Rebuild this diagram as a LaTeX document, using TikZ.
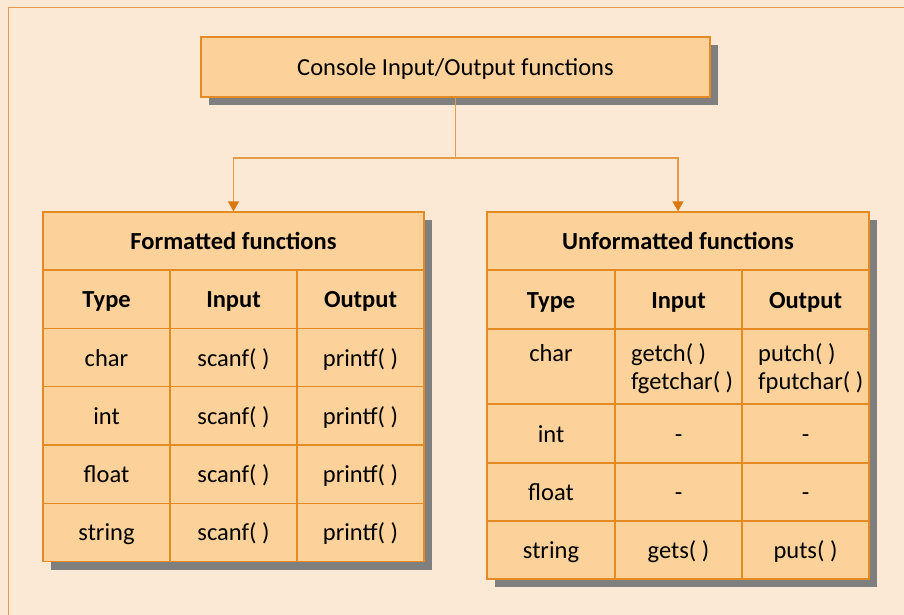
\documentclass[tikz,border=0pt]{standalone}
\usepackage{fontspec}
\setmainfont{Carlito}
\usetikzlibrary{arrows.meta}
\definecolor{bgc}{HTML}{FBE9D5}
\definecolor{boxc}{HTML}{FCD29A}
\definecolor{edgec}{HTML}{E38A22}
\definecolor{linec}{HTML}{E49A48}
\definecolor{tipc}{HTML}{D9780F}
\definecolor{shadc}{HTML}{7F7F7F}
\tikzset{
  cell/.style={draw=edgec, line width=1.3pt, fill=boxc, inner sep=0pt, text height=20pt, text depth=3pt, font=\fontsize{24.5}{28}\selectfont, text=black},
  hcell/.style={cell, font=\fontsize{24.5}{28}\selectfont\bfseries},
  shad/.style={fill=shadc},
  conn/.style={draw=linec, line width=1.5pt},
  txt/.style={inner sep=0pt, text height=20pt, text depth=3pt, font=\fontsize{24.5}{28}\selectfont, text=black, anchor=west}
}
\begin{document}
\begin{tikzpicture}[x=1pt,y=-1pt]
\useasboundingbox (0,0) rectangle (904,615);
\fill[bgc] (0,0) rectangle (904,615);
\draw[draw=linec, line width=1.5pt] (8.5,615) -- (8.5,7.5) -- (904,7.5);
% shadows
\fill[shad] (209,45) rectangle (718,105);
\fill[shad] (51,220) rectangle (432,570);
\fill[shad] (495,220) rectangle (877,587);
% top box
\node[cell, minimum width=509pt, minimum height=60pt] (top) at (455.5,67) {Console Input/Output functions};
% left table
\node[hcell, minimum width=381pt, minimum height=58.33pt] (LT) at (233.5,241.2) {Formatted functions};
\foreach \r/\a/\b/\c/\s in {1/Type/Input/Output/hcell, 2/char/scanf( )/printf( )/cell, 3/int/scanf( )/printf( )/cell, 4/float/scanf( )/printf( )/cell, 5/string/scanf( )/printf( )/cell}{
  \pgfmathsetmacro{\yy}{270+(\r-1)*58.33+29.17}
  \node[\s, minimum width=127pt, minimum height=58.33pt] (L\r a) at (106.5,\yy) {\a};
  \node[\s, minimum width=127pt, minimum height=58.33pt] (L\r b) at (233.5,\yy) {\b};
  \node[\s, minimum width=127pt, minimum height=58.33pt] (L\r c) at (360.5,\yy) {\c};
}
% right table
\node[hcell, minimum width=382pt, minimum height=58pt] (RT) at (678,241) {Unformatted functions};
\node[hcell, minimum width=128pt, minimum height=59pt] (R1a) at (551,299.5) {Type};
\node[hcell, minimum width=127pt, minimum height=59pt] (R1b) at (678.5,299.5) {Input};
\node[hcell, minimum width=127pt, minimum height=59pt] (R1c) at (805.5,299.5) {Output};
\node[cell, minimum width=128pt, minimum height=75pt] (R2a) at (551,366.5) {};
\node[cell, minimum width=127pt, minimum height=75pt] (R2b) at (678.5,366.5) {};
\node[cell, minimum width=127pt, minimum height=75pt] (R2c) at (805.5,366.5) {};
\node[txt, anchor=center] (t2a) at (551,353) {char};
\node[txt] (t2b1) at (631,353) {getch( )};
\node[txt] (t2b2) at (631,381) {fgetchar( )};
\node[txt] (t2c1) at (758,353) {putch( )};
\node[txt] (t2c2) at (758,381) {fputchar( )};
\node[cell, minimum width=128pt, minimum height=59pt] (R3a) at (551,433.5) {int};
\node[cell, minimum width=127pt, minimum height=59pt] (R3b) at (678.5,433.5) {-};
\node[cell, minimum width=127pt, minimum height=59pt] (R3c) at (805.5,433.5) {-};
\node[cell, minimum width=128pt, minimum height=58pt] (R4a) at (551,492) {float};
\node[cell, minimum width=127pt, minimum height=58pt] (R4b) at (678.5,492) {-};
\node[cell, minimum width=127pt, minimum height=58pt] (R4c) at (805.5,492) {-};
\node[cell, minimum width=128pt, minimum height=58pt] (R5a) at (551,550) {string};
\node[cell, minimum width=127pt, minimum height=58pt] (R5b) at (678.5,550) {gets( )};
\node[cell, minimum width=127pt, minimum height=58pt] (R5c) at (805.5,550) {puts( )};
% connectors
\coordinate (split) at ([yshift=-60.5pt]top.south);
\draw[conn] (top.south) -- (split);
\draw[conn, -{Triangle[width=11pt,length=10pt,color=tipc]}] (split) -| (LT.north);
\draw[conn, -{Triangle[width=11pt,length=10pt,color=tipc]}] (split) -| (RT.north);
\end{tikzpicture}
\end{document}
